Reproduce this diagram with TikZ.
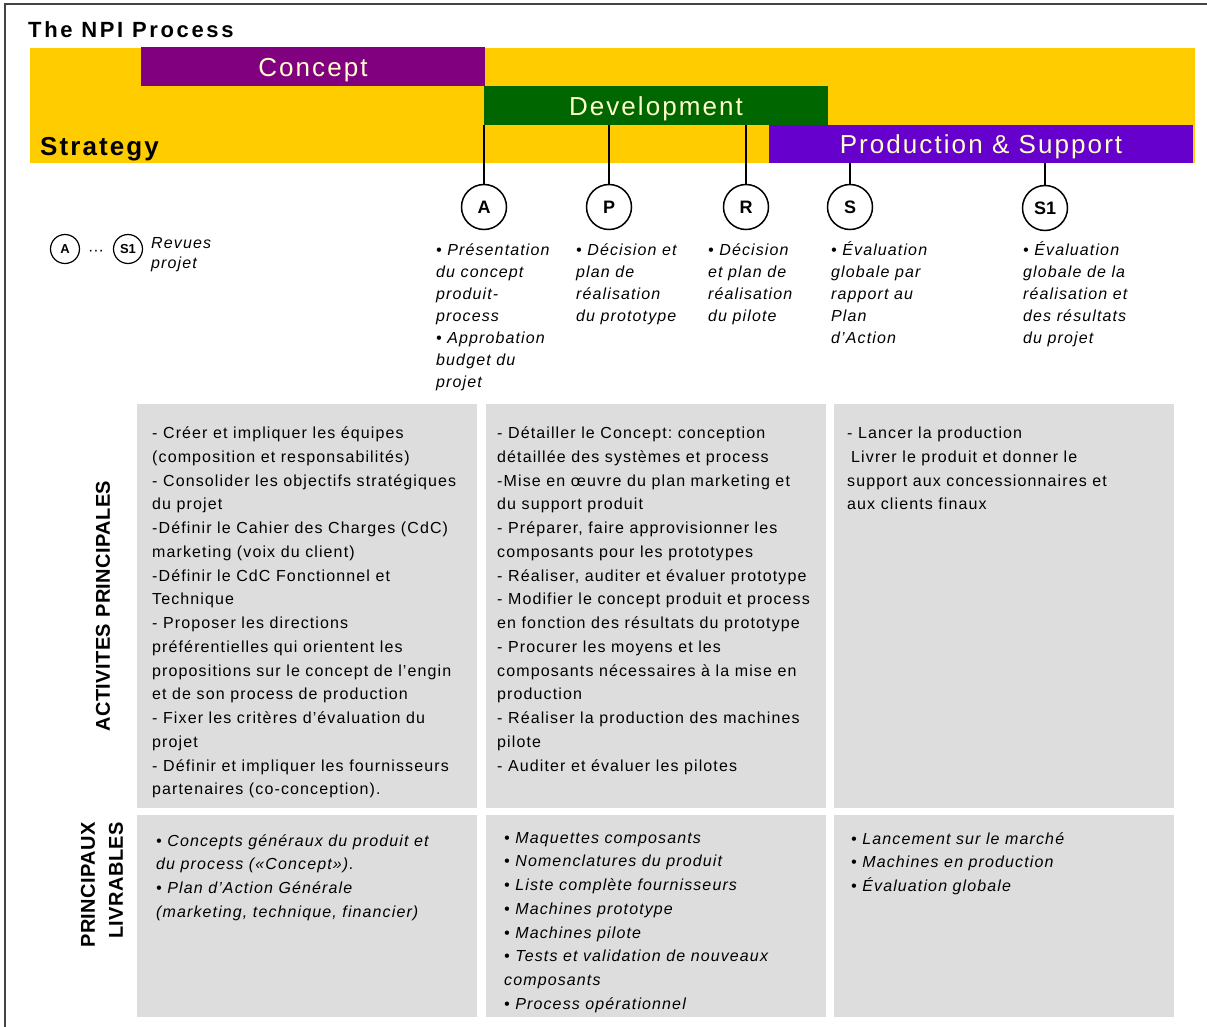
\documentclass[tikz,border=0pt]{standalone}
\usepackage{fontspec}
\setmainfont{Liberation Sans}
\newfontfamily\bodyfont[LetterSpace=7]{Liberation Sans}
\newfontfamily\barfont[LetterSpace=8]{Liberation Sans}
\newfontfamily\headfont[LetterSpace=12]{Liberation Sans}
\newfontfamily\stratfont[LetterSpace=8]{Liberation Sans}
\newfontfamily\sidefont[LetterSpace=2]{Liberation Sans}
\frenchspacing
\definecolor{stratyellow}{HTML}{FFCC00}
\definecolor{conceptpurple}{HTML}{800080}
\definecolor{devgreen}{HTML}{006600}
\definecolor{prodviolet}{HTML}{6600CC}
\definecolor{barcream}{HTML}{FFFFCC}
\definecolor{cellgray}{HTML}{DDDDDD}
\definecolor{framegray}{HTML}{444444}
\tikzset{
  bar/.style={rectangle, inner sep=0pt, outer sep=0pt, anchor=north west, draw=none},
  bartext/.style={font=\barfont\fontsize{26}{30}\selectfont, text=barcream, anchor=base, inner sep=0pt},
  review/.style={circle, draw, line width=1.5pt, minimum size=45pt, inner sep=0pt, font=\bfseries\fontsize{18}{18}\selectfont},
  legcirc/.style={circle, draw, line width=1.2pt, minimum size=29pt, inner sep=0pt, font=\bfseries\fontsize{13}{13}\selectfont},
  conn/.style={line width=1.6pt, black},
  revtext/.style={anchor=base west, align=left, inner sep=0pt, font=\bodyfont\itshape\fontsize{16}{22}\selectfont},
  cell/.style={rectangle, fill=cellgray, inner sep=0pt, outer sep=0pt, anchor=north west, minimum width=340pt},
  celltext/.style={anchor=base west, align=left, inner sep=0pt, font=\bodyfont\fontsize{16}{23.75}\selectfont},
  cellital/.style={anchor=base west, align=left, inner sep=0pt, font=\bodyfont\itshape\fontsize{16}{23.75}\selectfont},
  sidelabel/.style={rotate=90, inner sep=0pt, align=right, font=\sidefont\bfseries\fontsize{20}{28}\selectfont}
}
\begin{document}
\begin{tikzpicture}[x=1pt,y=-1pt]
\useasboundingbox (0,0) rectangle (1207,1027);
% frame
\draw[line width=1.5pt, framegray] (5,1027) -- (5,4) -- (1207,4);
% title
\node[anchor=base west, inner sep=0pt, font=\headfont\bfseries\fontsize{22}{22}\selectfont] (title) at (28,38) {The NPI Process};
% phase bars
\node[bar, fill=stratyellow, minimum width=1165pt, minimum height=115pt] (strat) at (30,48) {};
\node[bar, fill=conceptpurple, minimum width=344pt, minimum height=39pt] (concept) at (141,47) {};
\node[bar, fill=devgreen, minimum width=344pt, minimum height=39pt] (dev) at (484,86) {};
\node[bar, fill=prodviolet, minimum width=424pt, minimum height=38pt] (prod) at (769,125) {};
\node[bartext] (concepttext) at ([yshift=-10pt]concept.center) {Concept};
\node[bartext] (devtext) at ([yshift=-10pt]dev.center) {Development};
\node[bartext] (prodtext) at ([yshift=-10pt]prod.center) {Production \& Support};
\node[anchor=base west, inner sep=0pt, font=\stratfont\bfseries\fontsize{26}{26}\selectfont] (strattext) at (40,156) {Strategy};
% review circles
\node[review] (A) at (484,207) {A};
\node[review] (P) at (609,207) {P};
\node[review] (R) at (746,207) {R};
\node[review] (S) at (850,207) {S};
\node[review] (S1) at (1045,208) {S1};
\draw[conn] (A.north |- dev.south) -- (A.north);
\draw[conn] (P.north |- dev.south) -- (P.north);
\draw[conn] (R.north |- dev.south) -- (R.north);
\draw[conn] (S.north |- prod.south) -- (S.north);
\draw[conn] (S1.north |- prod.south) -- (S1.north);
% legend
\node[legcirc] (LA) at (65,249) {A};
\node[inner sep=0pt, font=\fontsize{16}{16}\selectfont] (dots) at (96,253) {···};
\node[legcirc] (LS1) at (128,249) {S1};
% (base anchor of a multi-line node = baseline of its last line)
\node[anchor=base west, align=left, inner sep=0pt, font=\bodyfont\itshape\fontsize{16}{20}\selectfont] (legtext) at (151,268) {Revues\\projet};
% review descriptions
\node[revtext] (Atext) at (436,387) {• Présentation\\du concept\\produit-\\process\\• Approbation\\budget du\\projet};
\node[revtext] (Ptext) at (576,321) {• Décision et\\plan de\\réalisation\\du prototype};
\node[revtext] (Rtext) at (708,321) {• Décision\\et plan de\\réalisation\\du pilote};
\node[revtext] (Stext) at (831,343) {• Évaluation\\globale par\\rapport au\\Plan\\d’Action};
\node[revtext] (S1text) at (1023,343) {• Évaluation\\globale de la\\réalisation et\\des résultats\\du projet};
% cells row 1
\node[cell, minimum height=404pt] (c11) at (137,404) {};
\node[cell, minimum height=404pt] (c12) at (486,404) {};
\node[cell, minimum height=404pt] (c13) at (834,404) {};
% cells row 2
\node[cell, minimum height=202pt] (c21) at (137,815) {};
\node[cell, minimum height=202pt] (c22) at (486,815) {};
\node[cell, minimum height=202pt] (c23) at (834,815) {};
% side labels
\node[sidelabel] (act) at (103,606) {ACTIVITES PRINCIPALES};
\node[sidelabel, anchor=east] (livr) at (102,822) {PRINCIPAUX\\LIVRABLES};
% cell texts
\node[celltext] (t11) at (152,794.75) {- Créer et impliquer les équipes\\(composition et responsabilités)\\- Consolider les objectifs stratégiques\\du projet\\-Définir le Cahier des Charges (CdC)\\marketing (voix du client)\\-Définir le CdC Fonctionnel et\\Technique\\- Proposer les directions\\préférentielles qui orientent les\\propositions sur le concept de l’engin\\et de son process de production\\- Fixer les critères d’évaluation du\\projet\\- Définir et impliquer les fournisseurs\\partenaires (co-conception).};
\node[celltext] (t12) at (497,771) {- Détailler le Concept: conception\\détaillée des systèmes et process\\-Mise en œuvre du plan marketing et\\du support produit\\- Préparer, faire approvisionner les\\composants pour les prototypes\\- Réaliser, auditer et évaluer prototype\\- Modifier le concept produit et process\\en fonction des résultats du prototype\\- Procurer les moyens et les\\composants nécessaires à la mise en\\production\\- Réaliser la production des machines\\pilote\\- Auditer et évaluer les pilotes};
\node[celltext] (t13) at (847,509.75) {- Lancer la production\\\hspace*{4pt}Livrer le produit et donner le\\support aux concessionnaires et\\aux clients finaux};
\node[cellital] (t21) at (156,917.25) {• Concepts généraux du produit et\\du process («Concept»).\\• Plan d’Action Générale\\(marketing, technique, financier)};
\node[cellital] (t22) at (504,1009.25) {• Maquettes composants\\• Nomenclatures du produit\\• Liste complète fournisseurs\\• Machines prototype\\• Machines pilote\\• Tests et validation de nouveaux\\composants\\• Process opérationnel};
\node[cellital] (t23) at (851,891.5) {• Lancement sur le marché\\• Machines en production\\• Évaluation globale};
\end{tikzpicture}
\end{document}
